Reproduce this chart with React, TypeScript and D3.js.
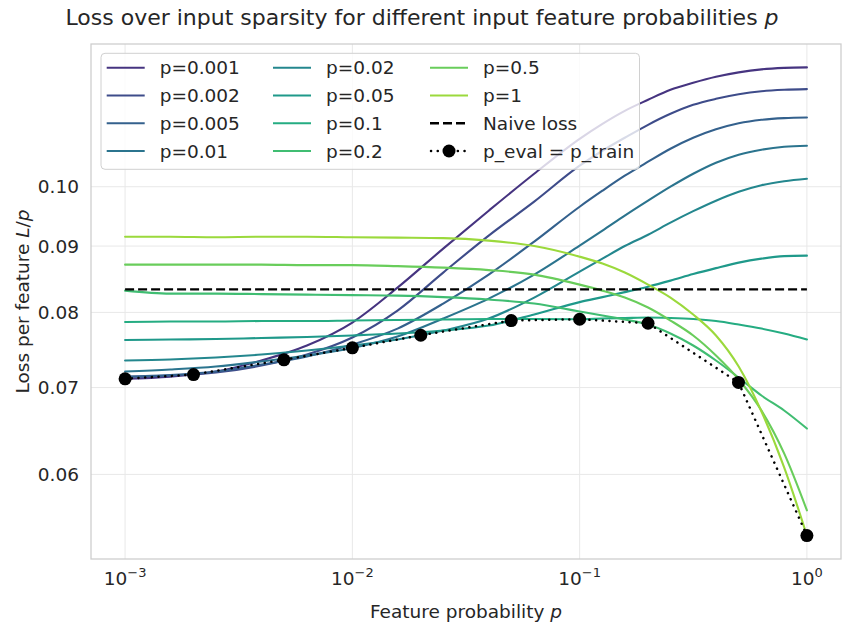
import React from "react";
import * as d3 from "d3";

// ---- data ----
const pEval = [0.001, 0.00158, 0.00251, 0.00398, 0.00631, 0.01, 0.0158, 0.0251, 0.0398, 0.0631, 0.1, 0.126, 0.158, 0.2, 0.251, 0.316, 0.398, 0.501, 0.631, 0.794, 1];

const lossP0001 = [0.0711, 0.07138, 0.07202, 0.07345, 0.07543, 0.07857, 0.08359, 0.08959, 0.09583, 0.10233, 0.10888, 0.11182, 0.11443, 0.11669, 0.11878, 0.12026, 0.12155, 0.12251, 0.12317, 0.12349, 0.1236];
const lossP0002 = [0.07132, 0.07151, 0.07189, 0.07279, 0.07423, 0.07651, 0.08026, 0.08586, 0.09168, 0.09738, 0.1038, 0.1066, 0.10908, 0.11162, 0.11382, 0.11566, 0.11689, 0.11784, 0.11847, 0.11878, 0.11893];
const lossP0005 = [0.07138, 0.07157, 0.07202, 0.07292, 0.07397, 0.07556, 0.07773, 0.08126, 0.08555, 0.09071, 0.09651, 0.09929, 0.10197, 0.10454, 0.10698, 0.10908, 0.11073, 0.11192, 0.11262, 0.11296, 0.11308];
const lossP001 = [0.07202, 0.07228, 0.07266, 0.07332, 0.0741, 0.07509, 0.07664, 0.07913, 0.08198, 0.08555, 0.09007, 0.09249, 0.09499, 0.09755, 0.1, 0.10233, 0.10435, 0.10585, 0.10679, 0.10736, 0.10755];
const lossP002 = [0.07345, 0.07358, 0.07384, 0.07423, 0.07476, 0.07543, 0.07624, 0.07746, 0.07913, 0.08213, 0.08601, 0.08801, 0.09, 0.09183, 0.09382, 0.09575, 0.09755, 0.09911, 0.10027, 0.10098, 0.10143];
const lossP005 = [0.07617, 0.07624, 0.0763, 0.07644, 0.07657, 0.07678, 0.07705, 0.07746, 0.07815, 0.0797, 0.08147, 0.0822, 0.08293, 0.08374, 0.08464, 0.08563, 0.08654, 0.08739, 0.08801, 0.0884, 0.08848];
const lossP01 = [0.07864, 0.07871, 0.07871, 0.07878, 0.07878, 0.07885, 0.07892, 0.07899, 0.07906, 0.07906, 0.07903, 0.07913, 0.0792, 0.07927, 0.0792, 0.07906, 0.07878, 0.07829, 0.07773, 0.07705, 0.07624];
const lossP02 = [0.08315, 0.08271, 0.08271, 0.08264, 0.08256, 0.08249, 0.08242, 0.0822, 0.08184, 0.08126, 0.08012, 0.07955, 0.07899, 0.07829, 0.07705, 0.07543, 0.07345, 0.07125, 0.06902, 0.06721, 0.06509];
const lossP05 = [0.08708, 0.08708, 0.08708, 0.08708, 0.087, 0.087, 0.08685, 0.08662, 0.08624, 0.08555, 0.08404, 0.08315, 0.08213, 0.08069, 0.07885, 0.07678, 0.0741, 0.07101, 0.06721, 0.06228, 0.05629];
const lossP1 = [0.09151, 0.09151, 0.09143, 0.09151, 0.09151, 0.09143, 0.09136, 0.09128, 0.09087, 0.09, 0.08832, 0.08724, 0.08586, 0.08404, 0.08213, 0.07969, 0.07678, 0.07266, 0.06709, 0.06075, 0.05382];

const seriesLabels = ["p=0.001", "p=0.002", "p=0.005", "p=0.01", "p=0.02", "p=0.05", "p=0.1", "p=0.2", "p=0.5", "p=1"];
const seriesValues = [lossP0001, lossP0002, lossP0005, lossP001, lossP002, lossP005, lossP01, lossP02, lossP05, lossP1];

const pTrain = [0.001, 0.002, 0.005, 0.01, 0.02, 0.05, 0.1, 0.2, 0.5, 1];
const lossAtTrain = [0.0711, 0.07164, 0.07354, 0.07512, 0.07682, 0.07885, 0.07903, 0.07847, 0.07064, 0.05382];

const naiveLoss = 0.08333;

const xTicks = [0.001, 0.01, 0.1, 1];
const xTickExp = ["−3", "−2", "−1", "0"];
const yTicks = [0.06, 0.07, 0.08, 0.09, 0.1];
const yTickLabels = ["0.06", "0.07", "0.08", "0.09", "0.10"];

// ---- layout ----
const W = 844, H = 624;
const L = 91, R = 841, T = 44, B = 559;
const FONT = "DejaVu Sans, sans-serif";
const TXT = "#262626";

function logPad(lo: number, hi: number, f = 0.05): [number, number] {
  const a = Math.log10(lo), b = Math.log10(hi), d = (b - a) * f;
  return [Math.pow(10, a - d), Math.pow(10, b + d)];
}

export default function App() {
  const allY = seriesValues.flat().concat(lossAtTrain);
  const x = d3.scaleLog().domain(logPad(d3.min(pEval)!, d3.max(pEval)!)).range([L, R]);
  const y = d3.scaleLog().domain(logPad(d3.min(allY)!, d3.max(allY)!)).range([B, T]);
  const colorT = d3.scaleLinear().domain([0, seriesLabels.length - 1]).range([0.15, 0.85]);
  const colors = seriesLabels.map((_, i) => d3.interpolateViridis(colorT(i)));

  const line = d3.line<number>().x((_, i) => x(pEval[i])).y((v) => y(v)).curve(d3.curveMonotoneX);
  const trainLine = d3.line<number>().x((_, i) => x(pTrain[i])).y((v) => y(v));

  // legend
  const rowY = [67.7, 95.5, 123.3, 151];
  const colX = [106.7, 273, 430];
  const handleLen = 38;
  const legendItems: { label: string; kind: string; color: string }[] = [
    ...seriesLabels.map((l, i) => ({ label: l, kind: "line", color: colors[i] })),
    { label: "Naive loss", kind: "dash", color: "#000" },
    { label: "p_eval = p_train", kind: "dot", color: "#000" },
  ];

  return (
    <svg width={W} height={H} style={{ position: "absolute", left: 0, top: 0, background: "#fff" }} fontFamily={FONT}>
      <rect x={0} y={0} width={W} height={H} fill="#fff" />
      <text x={422} y={25} textAnchor="middle" fontSize={22} fill={TXT}>
        Loss over input sparsity for different input feature probabilities <tspan fontStyle="italic">p</tspan>
      </text>
      {/* grid */}
      {xTicks.map((t) => (
        <line key={"gx" + t} x1={x(t)} x2={x(t)} y1={T} y2={B} stroke="#e8e8e8" strokeWidth={1} />
      ))}
      {yTicks.map((t) => (
        <line key={"gy" + t} x1={L} x2={R} y1={y(t)} y2={y(t)} stroke="#e8e8e8" strokeWidth={1} />
      ))}
      {/* curves */}
      <g fill="none" strokeLinejoin="round" strokeLinecap="round">
        {seriesValues.map((vals, i) => (
          <path key={"s" + i} d={line(vals)!} stroke={colors[i]} strokeWidth={2.1} />
        ))}
        <line x1={x(pEval[0])} x2={x(pEval[pEval.length - 1])} y1={y(naiveLoss)} y2={y(naiveLoss)} stroke="#000" strokeWidth={2.4} strokeDasharray="9,4" strokeLinecap="butt" />
        <path d={trainLine(lossAtTrain)!} stroke="#000" strokeWidth={2.5} strokeDasharray="0.1,6.6" strokeLinecap="round" />
      </g>
      {pTrain.map((p, i) => (
        <circle key={"d" + i} cx={x(p)} cy={y(lossAtTrain[i])} r={6.5} fill="#000" />
      ))}
      {/* frame */}
      <rect x={L} y={T} width={R - L} height={B - T} fill="none" stroke="#cccccc" strokeWidth={1.25} />
      {/* y ticks */}
      {yTicks.map((t, i) => (
        <text key={"yt" + t} x={79} y={y(t)} dy="0.36em" textAnchor="end" fontSize={18.5} fill={TXT}>
          {yTickLabels[i]}
        </text>
      ))}
      {/* x ticks */}
      {xTicks.map((t, i) => (
        <text key={"xt" + t} x={x(t)} y={585} textAnchor="middle" fontSize={18.5} fill={TXT}>
          10<tspan fontSize={13} dy={-8}>{xTickExp[i]}</tspan>
        </text>
      ))}
      <text x={(L + R) / 2} y={618} textAnchor="middle" fontSize={18.5} fill={TXT}>
        Feature probability <tspan fontStyle="italic">p</tspan>
      </text>
      <text transform={`translate(29, ${(T + B) / 2}) rotate(-90)`} textAnchor="middle" fontSize={18.5} fill={TXT}>
        Loss per feature <tspan fontStyle="italic">L</tspan>/<tspan fontStyle="italic">p</tspan>
      </text>
      {/* legend */}
      <rect x={101} y={53.3} width={538.5} height={116} rx={4} fill="rgba(255,255,255,0.8)" stroke="#d0d0d0" strokeWidth={1} />
      {legendItems.map((it, k) => {
        const c = Math.floor(k / 4), r = k % 4;
        const x0 = colX[c], yy = rowY[r];
        return (
          <g key={"lg" + k}>
            {it.kind === "line" && <line x1={x0} x2={x0 + handleLen} y1={yy} y2={yy} stroke={it.color} strokeWidth={2.1} />}
            {it.kind === "dash" && <line x1={x0} x2={x0 + handleLen} y1={yy} y2={yy} stroke="#000" strokeWidth={2.4} strokeDasharray="9,4" />}
            {it.kind === "dot" && (
              <g>
                <line x1={x0 + 1} x2={x0 + handleLen} y1={yy} y2={yy} stroke="#000" strokeWidth={2.5} strokeDasharray="0.1,6.6" strokeLinecap="round" />
                <circle cx={x0 + handleLen / 2} cy={yy} r={6.5} fill="#000" />
              </g>
            )}
            <text x={x0 + handleLen + 15} y={yy} dy="0.36em" fontSize={18.5} fill={TXT}>
              {it.label}
            </text>
          </g>
        );
      })}
    </svg>
  );
}
